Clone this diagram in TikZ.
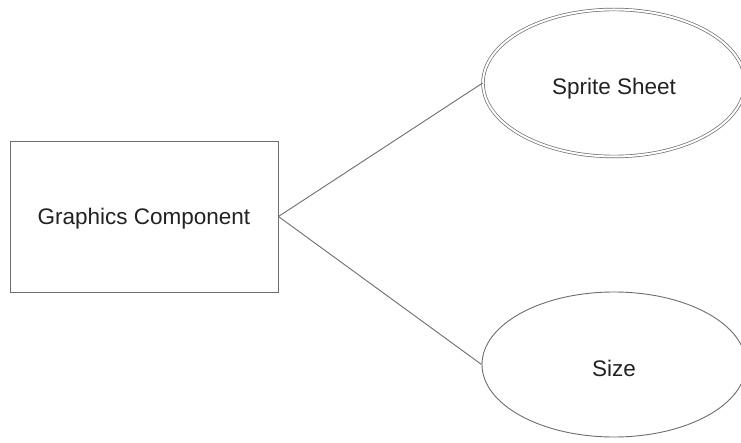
\documentclass[tikz,border=0pt]{standalone}
\usepackage{fontspec}
\setmainfont{Liberation Sans}
\usetikzlibrary{shapes.geometric}
\definecolor{edgegray}{HTML}{6E6E6E}
\definecolor{labelink}{HTML}{222222}
\begin{document}
\begin{tikzpicture}[x=1pt,y=-1pt,
  entity/.style={draw=edgegray, line width=0.9pt, rectangle, minimum width=268pt, minimum height=151pt, inner sep=0pt,
    font=\fontsize{22.5}{26}\selectfont, text=labelink, text height=17pt, text depth=0pt},
  attr/.style={draw=edgegray, line width=0.9pt, ellipse, minimum width=264pt, minimum height=145pt, inner sep=0pt,
    font=\fontsize{22.5}{26}\selectfont, text=labelink, text height=24pt, text depth=0pt},
  multi/.style={attr, double=white, double distance=2pt, line width=0.7pt, minimum width=262pt, minimum height=147pt},
  link/.style={draw=edgegray, line width=0.9pt}]
\useasboundingbox[fill=white] (0,0) rectangle (741,443);
\node[entity] (gc) at (144,216.5) {Graphics Component};
\node[multi] (ss) at (614,83) {Sprite Sheet};
\node[attr] (sz) at (614,364.5) {Size};
\draw[link] (gc.east) -- (ss.west);
\draw[link] (gc.east) -- (sz.west);
\end{tikzpicture}
\end{document}
